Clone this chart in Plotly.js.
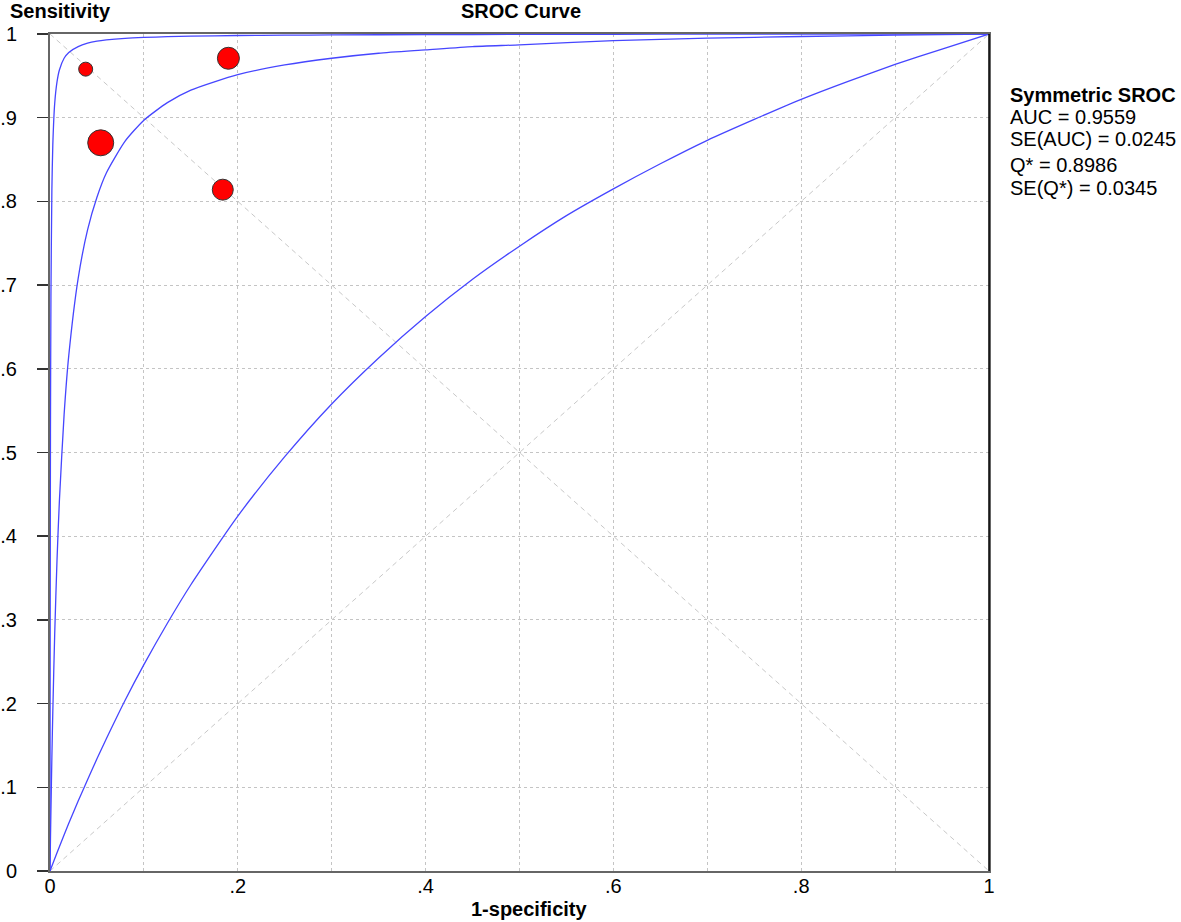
<!DOCTYPE html>
<html>
<head>
<meta charset="utf-8">
<script src="https://cdn.plot.ly/plotly-3.0.1.min.js"></script>
<style>
  html, body { margin: 0; padding: 0; background: #fff; }
  #chart { width: 1181px; height: 922px; }
</style>
</head>
<body>
<div id="chart"></div>
<script>
// ---- Data ----
// Study points (1-specificity, sensitivity) and their bubble sizes
const studyFpr  = [0.038, 0.054, 0.190, 0.184];
const studySens = [0.958, 0.870, 0.971, 0.814];
const studySize = [14, 26, 22, 21];

// Symmetric SROC curve (centre)
const srocX = [0, 0.0005, 0.001, 0.002, 0.003, 0.005, 0.0075, 0.01, 0.015, 0.02, 0.03, 0.04, 0.05, 0.06, 0.08, 0.1, 0.125, 0.15, 0.2, 0.25, 0.3, 0.35, 0.4, 0.45, 0.5, 0.6, 0.7, 0.8, 0.9, 1];
const srocY = [0, 0.038, 0.073, 0.136, 0.191, 0.283, 0.3725, 0.442, 0.545, 0.616, 0.708, 0.766, 0.805, 0.834, 0.872, 0.897, 0.918, 0.933, 0.9515, 0.963, 0.971, 0.977, 0.981, 0.985, 0.987, 0.992, 0.995, 0.997, 0.9986, 1];

// Upper bound curve
const upperX = [0, 0.0001, 0.0002, 0.0005, 0.001, 0.002, 0.003, 0.005, 0.0075, 0.01, 0.015, 0.02, 0.03, 0.04, 0.05, 0.06, 0.08, 0.1, 0.125, 0.15, 0.2, 0.25, 0.3, 0.4, 0.5, 0.6, 0.7, 0.8, 0.9, 1];
const upperY = [0, 0.18, 0.304, 0.523, 0.687, 0.814, 0.868, 0.917, 0.943, 0.957, 0.971, 0.978, 0.985, 0.989, 0.9914, 0.9929, 0.9948, 0.9959, 0.9968, 0.9974, 0.9982, 0.9986, 0.9989, 0.9993, 0.9995, 0.9997, 0.9998, 0.9999, 0.99994, 1];

// Lower bound curve
const lowerX = [0, 0.005, 0.01, 0.02, 0.03, 0.04, 0.05, 0.06, 0.08, 0.1, 0.125, 0.15, 0.2, 0.25, 0.3, 0.35, 0.4, 0.45, 0.5, 0.55, 0.6, 0.65, 0.7, 0.75, 0.8, 0.85, 0.9, 0.95, 1];
const lowerY = [0, 0.0146, 0.029, 0.057, 0.0835, 0.109, 0.134, 0.158, 0.204, 0.2465, 0.296, 0.342, 0.424, 0.495, 0.558, 0.613, 0.6625, 0.707, 0.7465, 0.783, 0.815, 0.845, 0.873, 0.898, 0.922, 0.9435, 0.9636, 0.982, 1];

// Reference diagonals
const diagUpX = [0, 1];
const diagUpY = [0, 1];
const diagDownX = [0, 1];
const diagDownY = [1, 0];

// Tick labels
const tickVals = [0, 0.1, 0.2, 0.3, 0.4, 0.5, 0.6, 0.7, 0.8, 0.9, 1];
const xTickText = ['0', '', '.2', '', '.4', '', '.6', '', '.8', '', '1'];
const yTickText = ['0', '.1', '.2', '.3', '.4', '.5', '.6', '.7', '.8', '.9', '1'];

// Text
const chartTitle = 'SROC Curve';
const yTitle = 'Sensitivity';
const xTitle = '1-specificity';
const statsHeader = 'Symmetric SROC';
const statsLines = ['AUC = 0.9559', 'SE(AUC) = 0.0245', 'Q* = 0.8986', 'SE(Q*) = 0.0345'];

// ---- Chart ----
const FONT = '"Liberation Sans", Arial, Helvetica, sans-serif';
const curveColor = '#4646ff';
const diagStyle = { color: '#c8c8c8', width: 1, dash: '5px,4px' };

const traces = [
  { x: diagUpX, y: diagUpY, mode: 'lines', line: diagStyle, hoverinfo: 'skip', showlegend: false },
  { x: diagDownX, y: diagDownY, mode: 'lines', line: diagStyle, hoverinfo: 'skip', showlegend: false },
  { x: lowerX, y: lowerY, mode: 'lines', line: { color: curveColor, width: 1.3, shape: 'spline', smoothing: 0.6 }, showlegend: false, cliponaxis: false },
  { x: srocX, y: srocY, mode: 'lines', line: { color: curveColor, width: 1.3, shape: 'spline', smoothing: 0.6 }, showlegend: false, cliponaxis: false },
  { x: upperX, y: upperY, mode: 'lines', line: { color: curveColor, width: 1.3, shape: 'spline', smoothing: 0.6 }, showlegend: false, cliponaxis: false },
  { x: studyFpr, y: studySens, mode: 'markers',
    marker: { color: '#ff0000', opacity: 1, size: studySize, line: { color: '#333333', width: 1 } },
    showlegend: false, cliponaxis: false }
];

const plotLeft = 50, plotTop = 34, plotW = 939, plotH = 837;
const px2x = px => (px - plotLeft) / plotW;
const py2y = py => (plotTop + plotH - py) / plotH;

const annotations = [
  { text: '<b>' + yTitle + '</b>', xref: 'paper', yref: 'paper', x: px2x(8), y: py2y(11), xanchor: 'left', yanchor: 'middle', showarrow: false, font: { family: FONT, size: 20, color: '#000' } },
  { text: '<b>' + chartTitle + '</b>', xref: 'paper', yref: 'paper', x: px2x(521), y: py2y(11), xanchor: 'center', yanchor: 'middle', showarrow: false, font: { family: FONT, size: 20, color: '#000' } },
  { text: '<b>' + xTitle + '</b>', xref: 'paper', yref: 'paper', x: px2x(529), y: py2y(909), xanchor: 'center', yanchor: 'middle', showarrow: false, font: { family: FONT, size: 20, color: '#000' } },
  { text: '<b>' + statsHeader + '</b>', xref: 'paper', yref: 'paper', x: px2x(1008), y: py2y(95), xanchor: 'left', yanchor: 'middle', showarrow: false, font: { family: FONT, size: 20, color: '#000' } }
];
const statsY = [117, 139, 165, 188];
statsLines.forEach((t, i) => {
  annotations.push({ text: t, xref: 'paper', yref: 'paper', x: px2x(1008), y: py2y(statsY[i]), xanchor: 'left', yanchor: 'middle', showarrow: false, font: { family: FONT, size: 20, color: '#000' } });
});

const layout = {
  width: 1181, height: 922,
  margin: { l: 50, r: 1181 - 50 - 939, t: 34, b: 922 - 34 - 837, pad: 0 },
  paper_bgcolor: '#ffffff', plot_bgcolor: '#ffffff',
  font: { family: FONT, size: 20, color: '#000' },
  showlegend: false,
  xaxis: {
    range: [0, 1], tickmode: 'array', tickvals: tickVals, ticktext: xTickText,
    showgrid: true, gridcolor: '#c4c4c4', griddash: 'dot', gridwidth: 1,
    zeroline: false, showline: true, linecolor: '#666666', linewidth: 2, mirror: true,
    ticks: '', ticklabelstandoff: -4, tickfont: { family: FONT, size: 20, color: '#000' },
    fixedrange: true
  },
  yaxis: {
    range: [0, 1], tickmode: 'array', tickvals: tickVals, ticktext: yTickText,
    showgrid: true, gridcolor: '#c4c4c4', griddash: 'dot', gridwidth: 1,
    zeroline: false, showline: true, linecolor: '#666666', linewidth: 2, mirror: true,
    ticks: 'outside', ticklen: 11, tickwidth: 1.5, tickcolor: '#333333',
    ticklabelstandoff: 16, tickfont: { family: FONT, size: 20, color: '#000' },
    fixedrange: true
  },
  shapes: [
    { type: 'line', xref: 'paper', yref: 'paper', x0: 1, x1: 1, y0: 0, y1: 1, line: { color: '#000000', width: 1.5 } }
  ],
  annotations: annotations
};

Plotly.newPlot('chart', traces, layout, { displayModeBar: false, staticPlot: true });
</script>
</body>
</html>
